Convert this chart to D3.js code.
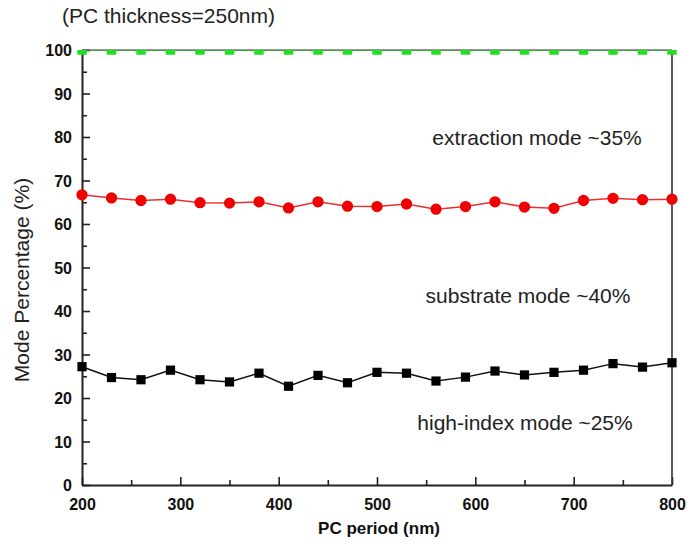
<!DOCTYPE html>
<html><head><meta charset="utf-8">
<script src="https://cdn.jsdelivr.net/npm/d3@7"></script>
<style>body{margin:0;background:#fff}svg{display:block}</style>
</head><body><svg id="c" width="689" height="552"></svg>
<script>
const periods = [200,230,260,290,320,350,380,410,440,470,500,530,560,590,620,650,680,710,740,770,800];
const extraction = [100,100,100,100,100,100,100,100,100,100,100,100,100,100,100,100,100,100,100,100,100];
const substrate = [66.7,66.0,65.4,65.7,64.9,64.8,65.1,63.7,65.1,64.1,64.0,64.6,63.4,64.0,65.1,63.9,63.6,65.4,65.9,65.6,65.7];
const highIndex = [27.2,24.7,24.2,26.4,24.2,23.7,25.7,22.7,25.2,23.5,25.9,25.7,23.9,24.8,26.2,25.3,25.9,26.4,27.9,27.1,28.1];
const xTicks = [200,300,400,500,600,700,800];
const yTicks = [0,10,20,30,40,50,60,70,80,90,100];
const labels = ["(PC thickness=250nm)","extraction mode ~35%","substrate mode ~40%","high-index mode ~25%","PC period (nm)","Mode Percentage (%)"];

const svg = d3.select("#c");
const L=82, R=672, T=50, B=485;
const x = d3.scaleLinear().domain([200,800]).range([L,R]);
const y = d3.scaleLinear().domain([0,100]).range([B,T]);
const font = "Arial, 'Liberation Sans', sans-serif";

svg.append("defs").append("clipPath").attr("id","clip")
  .append("rect").attr("x",L-6).attr("y",T).attr("width",R-L+12).attr("height",B-T);

const gx = svg.append("g").attr("transform",`translate(0,${B})`)
  .call(d3.axisBottom(x).tickValues(xTicks).tickFormat(d3.format("d")).tickSizeInner(-8).tickSizeOuter(0).tickPadding(14));
const gy = svg.append("g").attr("transform",`translate(${L},0)`)
  .call(d3.axisLeft(y).tickValues(yTicks).tickFormat(d3.format("d")).tickSizeInner(-8).tickSizeOuter(0).tickPadding(10));
svg.append("g").attr("transform",`translate(0,${B})`)
  .call(d3.axisBottom(x).tickValues(d3.range(250,800,100)).tickFormat("").tickSizeInner(-5).tickSizeOuter(0))
  .select(".domain").remove();
svg.append("g").attr("transform",`translate(${L},0)`)
  .call(d3.axisLeft(y).tickValues(d3.range(5,100,10)).tickFormat("").tickSizeInner(-5).tickSizeOuter(0))
  .select(".domain").remove();
svg.selectAll(".domain").attr("stroke","#222").attr("stroke-width",2);
svg.selectAll(".tick line").attr("stroke","#222").attr("stroke-width",1.6);
[gx,gy].forEach(g=>g.selectAll("text").attr("font-family",font).attr("font-size",16).attr("font-weight","bold").attr("fill","#111"));
gy.selectAll("text").attr("dy","0.35em");
gx.selectAll("text").attr("dy","0.71em");
svg.append("line").attr("x1",R).attr("x2",R).attr("y1",T).attr("y2",B).attr("stroke","#333").attr("stroke-width",1.6);
svg.append("line").attr("x1",L).attr("x2",R).attr("y1",T).attr("y2",T).attr("stroke","#333").attr("stroke-width",1.2);

const plot = svg.append("g").attr("clip-path","url(#clip)");
function series(vals,color,lineColor,shape,size){
  const data = periods.map((p,i)=>[p,vals[i]]);
  plot.append("path").datum(data).attr("fill","none").attr("stroke",lineColor).attr("stroke-width",1.5)
    .attr("d",d3.line().x(d=>x(d[0])).y(d=>y(d[1])));
  plot.selectAll(null).data(data).enter().append("path")
    .attr("transform",d=>`translate(${x(d[0])},${y(d[1])})`)
    .attr("d",d3.symbol().type(shape).size(size)).attr("fill",color);
}
series(highIndex,"#000","#111",d3.symbolSquare,85);
series(substrate,"#f00000","#e83030",d3.symbolCircle,100);
series(extraction,"#22dd22","#22aa22",d3.symbolSquare,90);

const t = (s,xx,yy,opt={})=>svg.append("text").attr("x",xx).attr("y",yy).text(s)
  .attr("font-family",font).attr("font-size",opt.size||21).attr("font-weight",opt.bold?"bold":"normal")
  .attr("text-anchor",opt.anchor||"middle").attr("fill","#222");
t(labels[0],62,23,{anchor:"start"});
t(labels[1],537,145);
t(labels[2],528,303);
t(labels[3],525,430);
t(labels[4],379,534,{size:17,bold:true}).attr("fill","#111");
svg.append("text").attr("transform","translate(29,280) rotate(-90)").attr("text-anchor","middle").text(labels[5]).attr("font-family",font).attr("font-size",21).attr("fill","#222");
</script></body></html>
